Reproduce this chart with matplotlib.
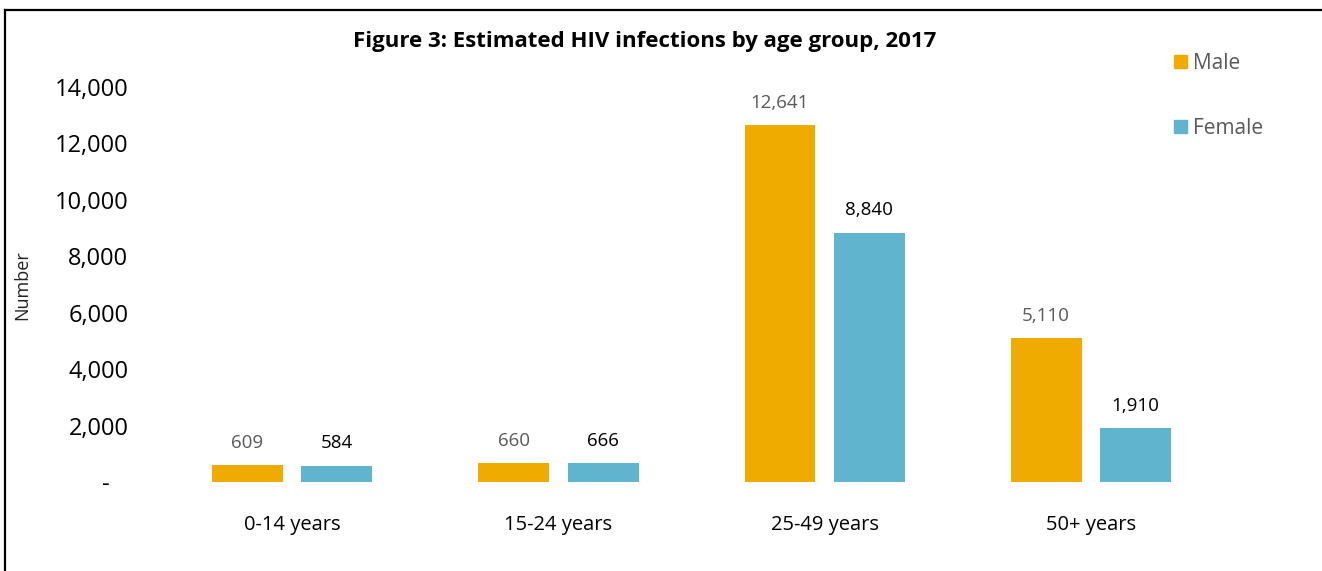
import matplotlib.pyplot as plt
from matplotlib.lines import Line2D
from matplotlib.patches import Patch
from matplotlib.ticker import FuncFormatter
import numpy as np

# data
groups = ["0-14 years", "15-24 years", "25-49 years", "50+ years"]
male = [609, 660, 12641, 5110]
female = [584, 666, 8840, 1910]

c_male = "#F0AB00"
c_female = "#60B4CD"

plt.rcParams['font.family'] = ['Open Sans', 'DejaVu Sans']

fig = plt.figure(figsize=(13.22, 5.71), dpi=100)
ax = fig.add_axes([0.1203, 0.1559, 0.8056, 0.6918])

x = np.arange(len(groups))
w = 0.266
off = 0.168
b1 = ax.bar(x - off, male, w, color=c_male)
b2 = ax.bar(x + off, female, w, color=c_female)

for rect, v in zip(b1, male):
    ax.annotate(f"{v:,}", (rect.get_x() + rect.get_width() / 2, v),
                xytext=(0, 16), textcoords="offset points",
                ha="center", va="center", fontsize=13.5, color="#595959")
for rect, v in zip(b2, female):
    ax.annotate(f"{v:,}", (rect.get_x() + rect.get_width() / 2, v),
                xytext=(0, 16), textcoords="offset points",
                ha="center", va="center", fontsize=13.5, color="black")

ax.set_xlim(-0.5, 3.5)
ax.set_ylim(0, 14000)
ax.set_yticks(range(0, 14001, 2000))
ax.yaxis.set_major_formatter(FuncFormatter(lambda v, p: "-   " if v == 0 else f"{int(v):,}"))
ax.set_xticks(x)
ax.set_xticklabels(groups)
ax.tick_params(axis="y", length=0, pad=22, labelsize=17)
ax.tick_params(axis="x", length=0, pad=24, labelsize=14.5)
for s in ax.spines.values():
    s.set_visible(False)

fig.text(0.017, 0.5, "Number", rotation=90, ha="center", va="center", fontsize=13, color="#222222")
fig.text(0.488, 0.927, "Figure 3: Estimated HIV infections by age group, 2017",
         ha="center", va="center", fontsize=16, fontweight="bold")

handles = [Patch(color=c_male, label="Male"), Patch(color=c_female, label="Female")]
leg = fig.legend(handles=handles, loc="upper left", bbox_to_anchor=(0.874, 0.94),
                 frameon=False, fontsize=15, handlelength=0.6, handleheight=0.6,
                 handletextpad=0.3, labelspacing=2.1, labelcolor="#595959")

# frame around the chart (cut off right and bottom)
fig.add_artist(Line2D([0.004, 0.004], [0.0, 0.983], transform=fig.transFigure, color="black", lw=1.6))
fig.add_artist(Line2D([0.004, 1.0], [0.983, 0.983], transform=fig.transFigure, color="black", lw=1.6))

fig.savefig("out.png", dpi=100)
